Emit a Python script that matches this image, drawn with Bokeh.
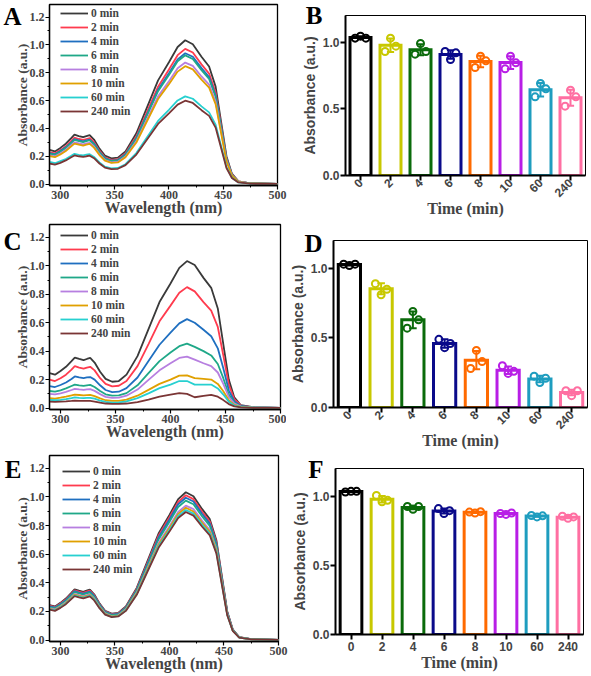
import math
from bokeh.plotting import figure
from bokeh.models import (Range1d, FactorRange, ColumnDataSource, Legend, LegendItem, LinearAxis,
                          FixedTicker, PrintfTickFormatter)
from bokeh.layouts import row, column
from bokeh.transform import dodge
from bokeh.embed import file_html
from bokeh.resources import INLINE

# ---------------- data ----------------
wavelength_nm = [290, 295, 300, 305, 310, 313, 317, 321, 324, 327, 331, 336, 341, 347, 353, 360,
                 370, 380, 390, 400, 408, 415, 422, 430, 437, 443, 448, 453, 458, 464, 475, 500]
time_legend = ["0 min", "2 min", "4 min", "6 min", "8 min", "10 min", "60 min", "240 min"]
time_cats = ["0", "2", "4", "6", "8", "10", "60", "240"]

control_0min = [0.245, 0.235, 0.26, 0.29, 0.33, 0.355, 0.345, 0.337, 0.345, 0.352, 0.32, 0.255, 0.205, 0.185, 0.19, 0.235,
                0.365, 0.555, 0.745, 0.875, 0.985, 1.033, 1.005, 0.915, 0.845, 0.70, 0.45, 0.20, 0.075, 0.02, 0.006, 0.002]

A_2min = [0.230, 0.221, 0.244, 0.273, 0.310, 0.334, 0.324, 0.317, 0.324, 0.331, 0.301, 0.240, 0.193, 0.174, 0.179, 0.221,
          0.343, 0.522, 0.700, 0.823, 0.926, 0.971, 0.945, 0.860, 0.794, 0.658, 0.423, 0.188, 0.071, 0.019, 0.006, 0.002]
A_4min = [0.223, 0.214, 0.237, 0.264, 0.300, 0.323, 0.314, 0.307, 0.314, 0.320, 0.291, 0.232, 0.187, 0.168, 0.173, 0.214,
          0.332, 0.505, 0.678, 0.796, 0.896, 0.940, 0.915, 0.833, 0.769, 0.637, 0.410, 0.182, 0.068, 0.018, 0.005, 0.002]
A_6min = [0.219, 0.210, 0.233, 0.260, 0.295, 0.318, 0.309, 0.302, 0.309, 0.315, 0.286, 0.228, 0.183, 0.166, 0.170, 0.210,
          0.327, 0.497, 0.667, 0.783, 0.882, 0.925, 0.899, 0.819, 0.756, 0.627, 0.403, 0.179, 0.067, 0.018, 0.005, 0.002]
A_8min = [0.207, 0.199, 0.220, 0.245, 0.279, 0.300, 0.292, 0.285, 0.292, 0.297, 0.270, 0.215, 0.173, 0.156, 0.161, 0.199,
          0.308, 0.469, 0.630, 0.739, 0.832, 0.873, 0.849, 0.773, 0.714, 0.592, 0.380, 0.169, 0.063, 0.017, 0.005, 0.002]
A_10min = [0.201, 0.193, 0.213, 0.238, 0.271, 0.291, 0.283, 0.276, 0.283, 0.289, 0.262, 0.209, 0.168, 0.152, 0.156, 0.193,
           0.299, 0.455, 0.611, 0.718, 0.808, 0.847, 0.824, 0.750, 0.693, 0.574, 0.369, 0.164, 0.062, 0.016, 0.005, 0.002]
A_60min = [0.160, 0.150, 0.165, 0.180, 0.203, 0.217, 0.210, 0.206, 0.212, 0.215, 0.195, 0.156, 0.125, 0.113, 0.116, 0.143,
           0.223, 0.339, 0.454, 0.534, 0.601, 0.630, 0.613, 0.558, 0.515, 0.427, 0.275, 0.122, 0.046, 0.012, 0.004, 0.001]
A_240min = [0.148, 0.140, 0.153, 0.170, 0.193, 0.206, 0.200, 0.195, 0.200, 0.204, 0.186, 0.148, 0.119, 0.107, 0.110, 0.136,
            0.212, 0.322, 0.432, 0.508, 0.571, 0.599, 0.583, 0.531, 0.490, 0.406, 0.261, 0.116, 0.044, 0.012, 0.003, 0.001]

C_2min = [0.20, 0.19, 0.21, 0.235, 0.27, 0.295, 0.285, 0.278, 0.285, 0.29, 0.265, 0.21, 0.17, 0.152, 0.157, 0.19,
          0.295, 0.45, 0.61, 0.72, 0.81, 0.85, 0.82, 0.745, 0.685, 0.57, 0.37, 0.165, 0.062, 0.018, 0.005, 0.002]
C_4min = [0.155, 0.148, 0.162, 0.18, 0.205, 0.222, 0.215, 0.21, 0.215, 0.218, 0.2, 0.16, 0.127, 0.112, 0.115, 0.14,
          0.215, 0.33, 0.445, 0.53, 0.595, 0.625, 0.6, 0.55, 0.505, 0.42, 0.28, 0.125, 0.048, 0.015, 0.005, 0.002]
C_6min = [0.12, 0.115, 0.125, 0.138, 0.155, 0.165, 0.16, 0.156, 0.16, 0.163, 0.148, 0.12, 0.097, 0.087, 0.089, 0.105,
          0.16, 0.245, 0.33, 0.39, 0.435, 0.453, 0.43, 0.4, 0.37, 0.31, 0.21, 0.095, 0.037, 0.012, 0.004, 0.002]
C_8min = [0.10, 0.096, 0.104, 0.114, 0.127, 0.135, 0.131, 0.128, 0.131, 0.133, 0.121, 0.098, 0.079, 0.071, 0.073, 0.087,
          0.13, 0.198, 0.265, 0.315, 0.352, 0.362, 0.34, 0.315, 0.295, 0.25, 0.17, 0.078, 0.031, 0.01, 0.004, 0.002]
C_10min = [0.07, 0.067, 0.073, 0.08, 0.089, 0.095, 0.092, 0.089, 0.091, 0.092, 0.084, 0.068, 0.055, 0.05, 0.051, 0.06,
           0.087, 0.128, 0.17, 0.2, 0.228, 0.23, 0.21, 0.205, 0.2, 0.17, 0.118, 0.055, 0.022, 0.008, 0.003, 0.002]
C_60min = [0.058, 0.055, 0.058, 0.063, 0.07, 0.075, 0.072, 0.07, 0.071, 0.072, 0.066, 0.053, 0.043, 0.039, 0.04, 0.047,
           0.07, 0.103, 0.14, 0.165, 0.19, 0.19, 0.165, 0.165, 0.165, 0.138, 0.095, 0.045, 0.018, 0.007, 0.003, 0.002]
C_240min = [0.045, 0.043, 0.045, 0.047, 0.05, 0.052, 0.051, 0.05, 0.05, 0.05, 0.046, 0.038, 0.032, 0.029, 0.029, 0.032,
            0.042, 0.06, 0.08, 0.095, 0.105, 0.1, 0.076, 0.085, 0.093, 0.08, 0.056, 0.028, 0.012, 0.005, 0.002, 0.001]

E_2min = [0.240, 0.230, 0.255, 0.284, 0.323, 0.348, 0.338, 0.330, 0.338, 0.345, 0.314, 0.250, 0.201, 0.181, 0.186, 0.230,
          0.358, 0.544, 0.730, 0.858, 0.965, 1.012, 0.985, 0.897, 0.828, 0.686, 0.441, 0.196, 0.074, 0.020, 0.006, 0.002]
E_4min = [0.236, 0.226, 0.250, 0.279, 0.318, 0.342, 0.332, 0.325, 0.332, 0.339, 0.308, 0.246, 0.197, 0.178, 0.183, 0.226,
          0.351, 0.534, 0.717, 0.843, 0.949, 0.995, 0.968, 0.881, 0.814, 0.674, 0.433, 0.193, 0.072, 0.019, 0.006, 0.002]
E_6min = [0.231, 0.222, 0.245, 0.274, 0.312, 0.335, 0.326, 0.318, 0.326, 0.332, 0.302, 0.241, 0.194, 0.175, 0.179, 0.222,
          0.345, 0.524, 0.703, 0.826, 0.930, 0.975, 0.949, 0.864, 0.798, 0.661, 0.425, 0.189, 0.071, 0.019, 0.006, 0.002]
E_8min = [0.223, 0.214, 0.237, 0.264, 0.300, 0.323, 0.314, 0.307, 0.314, 0.320, 0.291, 0.232, 0.187, 0.168, 0.173, 0.214,
          0.332, 0.505, 0.678, 0.796, 0.896, 0.940, 0.915, 0.833, 0.769, 0.637, 0.410, 0.182, 0.068, 0.018, 0.005, 0.002]
E_10min = [0.219, 0.210, 0.233, 0.260, 0.295, 0.318, 0.309, 0.302, 0.309, 0.315, 0.286, 0.228, 0.183, 0.166, 0.170, 0.210,
           0.327, 0.497, 0.667, 0.783, 0.882, 0.925, 0.899, 0.819, 0.756, 0.627, 0.403, 0.179, 0.067, 0.018, 0.005, 0.002]
E_60min = [0.216, 0.207, 0.229, 0.255, 0.290, 0.312, 0.304, 0.297, 0.304, 0.310, 0.282, 0.224, 0.180, 0.163, 0.167, 0.207,
           0.321, 0.488, 0.656, 0.770, 0.867, 0.909, 0.884, 0.805, 0.744, 0.616, 0.396, 0.176, 0.066, 0.018, 0.005, 0.002]
E_240min = [0.212, 0.204, 0.225, 0.251, 0.286, 0.307, 0.299, 0.292, 0.299, 0.305, 0.277, 0.221, 0.178, 0.160, 0.165, 0.204,
            0.316, 0.481, 0.645, 0.758, 0.853, 0.895, 0.870, 0.792, 0.732, 0.606, 0.390, 0.173, 0.065, 0.017, 0.005, 0.002]

# bar panels: mean, SD and the three replicate points (left / middle / right)
B_mean = [1.035, 0.977, 0.943, 0.907, 0.855, 0.847, 0.643, 0.583]
B_sd = [0.009, 0.05, 0.042, 0.032, 0.043, 0.048, 0.05, 0.06]
B_pts_left = [1.03, 0.93, 0.91, 0.93, 0.81, 0.80, 0.59, 0.52]
B_pts_mid = [1.045, 1.03, 0.99, 0.87, 0.895, 0.895, 0.69, 0.64]
B_pts_right = [1.03, 0.97, 0.93, 0.92, 0.86, 0.845, 0.65, 0.59]

D_mean = [1.027, 0.853, 0.63, 0.46, 0.34, 0.267, 0.205, 0.108]
D_sd = [0.006, 0.04, 0.06, 0.03, 0.066, 0.027, 0.023, 0.02]
D_pts_left = [1.03, 0.89, 0.57, 0.49, 0.28, 0.30, 0.225, 0.12]
D_pts_mid = [1.02, 0.81, 0.69, 0.43, 0.41, 0.245, 0.18, 0.085]
D_pts_right = [1.03, 0.85, 0.63, 0.46, 0.33, 0.26, 0.21, 0.12]

F_mean = [1.033, 0.978, 0.918, 0.893, 0.884, 0.874, 0.856, 0.848]
F_sd = [0.003, 0.024, 0.012, 0.018, 0.005, 0.005, 0.005, 0.008]
F_pts_left = [1.03, 1.005, 0.925, 0.91, 0.885, 0.875, 0.86, 0.855]
F_pts_mid = [1.035, 0.96, 0.905, 0.875, 0.878, 0.868, 0.85, 0.84]
F_pts_right = [1.035, 0.97, 0.925, 0.895, 0.888, 0.878, 0.858, 0.85]

spec_colors = ["#3a3a3a", "#ff3b4e", "#1f6fc0", "#1fa888", "#b77fe0", "#e0a000", "#27d0d0", "#7a3535"]
bar_colors = ["#000000", "#c8c800", "#0b6b0b", "#0a0a8a", "#ff6a00", "#b81ee6", "#1e9dbf", "#ff6fa2"]

SERIF = "Liberation Serif"
SANS = "Liberation Sans"


def base_fig(width, height, L, R, T, B, x_range, y_range):
    p = figure(width=width, height=height, x_range=x_range, y_range=y_range,
               output_backend="svg", toolbar_location=None)
    p.frame_align = False
    p.min_border_left = L
    p.min_border_right = R
    p.min_border_top = T
    p.min_border_bottom = B
    p.xgrid.visible = False
    p.ygrid.visible = False
    p.background_fill_color = "white"
    p.border_fill_color = "white"
    p.outline_line_color = "black"
    return p


def add_letter(p, letter, y_pos, standoff):
    # panel letter drawn as the single tick label of an extra, otherwise invisible left axis
    ax = LinearAxis(ticker=FixedTicker(ticks=[y_pos], minor_ticks=[]),
                    major_label_overrides={y_pos: letter})
    ax.axis_line_alpha = 0
    ax.major_tick_line_alpha = 0
    ax.minor_tick_line_alpha = 0
    ax.major_tick_out = 0
    ax.major_tick_in = 0
    ax.major_label_standoff = standoff
    ax.major_label_text_font = SERIF
    ax.major_label_text_font_style = "bold"
    ax.major_label_text_font_size = "25px"
    ax.major_label_text_color = "black"
    p.add_layout(ax, "left")


def spectrum_panel(curves, letter, width, height, L, R, T, B, leg_first, leg_x, let_y, let_off):
    p = base_fig(width, height, L, R, T, B, Range1d(290, 500), Range1d(-0.01, 1.29))
    frame_h = height - T - B
    p.outline_line_width = 1.3
    items = []
    for lab, col, ys in zip(time_legend, spec_colors, curves):
        r = p.line(wavelength_nm, ys, line_color=col, line_width=1.8)
        items.append(LegendItem(label=lab, renderers=[r]))
    item_h = 14
    leg_h = len(items) * item_h
    vy = frame_h - (leg_first - item_h / 2) - leg_h
    leg = Legend(items=items, location=(leg_x, vy), glyph_width=28, glyph_height=item_h,
                 label_height=item_h, spacing=0, padding=0, margin=0, label_standoff=3,
                 label_text_font=SERIF, label_text_font_style="bold", label_text_font_size="11.5px",
                 border_line_alpha=0, background_fill_alpha=0)
    p.add_layout(leg)
    p.xaxis.ticker = FixedTicker(ticks=[300, 350, 400, 450, 500], minor_ticks=[325, 375, 425, 475])
    p.yaxis.ticker = FixedTicker(ticks=[0.0, 0.2, 0.4, 0.6, 0.8, 1.0, 1.2],
                                 minor_ticks=[0.1, 0.3, 0.5, 0.7, 0.9, 1.1])
    p.yaxis.formatter = PrintfTickFormatter(format="%.1f")
    p.xaxis.axis_label = "Wavelength (nm)"
    p.yaxis.axis_label = "Absorbance (a.u.)"
    for ax in (p.xaxis[0], p.yaxis[0]):
        ax.axis_line_width = 1.3
        ax.major_tick_out = 4
        ax.major_tick_in = 0
        ax.minor_tick_out = 2
        ax.minor_tick_in = 0
        ax.major_tick_line_width = 1.2
        ax.major_label_text_font = SERIF
        ax.major_label_text_font_style = "bold"
        ax.major_label_text_font_size = "12px"
        ax.axis_label_text_font = SERIF
        ax.axis_label_text_font_style = "bold"
        ax.major_label_standoff = 1
    p.xaxis.axis_label_text_font_size = "16px"
    p.yaxis.axis_label_text_font_size = "13.5px"
    p.xaxis.axis_label_standoff = -3
    p.yaxis.axis_label_standoff = -3
    add_letter(p, letter, let_y, let_off)
    return p


def bar_panel(means, sds, left, mid, right, letter, rotate, width, height, L, R, T, B, let_y, let_off):
    p = base_fig(width, height, L, R, T, B, FactorRange(factors=time_cats), Range1d(0, 1.2))
    p.outline_line_width = 1
    lo = [m - s for m, s in zip(means, sds)]
    hi = [m + s for m, s in zip(means, sds)]
    src = ColumnDataSource(dict(cat=time_cats, mean=means, lo=lo, hi=hi, pl=left, pm=mid, pr=right,
                                color=bar_colors))
    p.vbar(x="cat", top="mean", bottom=0, width=0.7, fill_color="white", line_color="color",
           line_width=3, line_join="miter", source=src)
    p.segment(x0="cat", y0="lo", x1="cat", y1="hi", line_color="color", line_width=2, source=src)
    for yk in ("lo", "hi"):
        p.segment(x0=dodge("cat", -0.12, range=p.x_range), y0=yk, x1=dodge("cat", 0.12, range=p.x_range),
                  y1=yk, line_color="color", line_width=2, source=src)
    for off, key in ((-0.18, "pl"), (0.0, "pm"), (0.18, "pr")):
        p.scatter(x=dodge("cat", off, range=p.x_range), y=key, marker="circle", size=7,
                  line_color="color", line_width=2, fill_alpha=0, source=src)
    p.yaxis.ticker = FixedTicker(ticks=[0.0, 0.5, 1.0], minor_ticks=[])
    p.yaxis.formatter = PrintfTickFormatter(format="%.1f")
    p.xaxis.axis_label = "Time (min)"
    p.yaxis.axis_label = "Absorbance (a.u.)"
    for ax in (p.xaxis[0], p.yaxis[0]):
        ax.axis_line_width = 2
        ax.major_tick_out = 5
        ax.major_tick_in = 0
        ax.minor_tick_out = 0
        ax.major_tick_line_width = 2
        ax.major_label_text_font = SANS
        ax.major_label_text_font_style = "bold"
        ax.major_label_text_font_size = "12px"
        ax.major_label_standoff = 1
    p.xaxis.axis_label_text_font = SERIF
    p.xaxis.axis_label_text_font_style = "bold"
    p.xaxis.axis_label_text_font_size = "16px"
    p.yaxis.axis_label_text_font = SANS
    p.yaxis.axis_label_text_font_style = "bold"
    p.yaxis.axis_label_text_font_size = "14px"
    p.yaxis.axis_label_standoff = 2
    if rotate:
        p.xaxis.major_label_orientation = math.pi / 4
        p.xaxis.axis_label_standoff = -4
        p.xaxis.major_label_standoff = 0
    else:
        p.xaxis.axis_label_standoff = 0
        p.xaxis.major_label_standoff = 2
    add_letter(p, letter, let_y, let_off)
    return p


A_curves = [control_0min, A_2min, A_4min, A_6min, A_8min, A_10min, A_60min, A_240min]
C_curves = [control_0min, C_2min, C_4min, C_6min, C_8min, C_10min, C_60min, C_240min]
E_curves = [control_0min, E_2min, E_4min, E_6min, E_8min, E_10min, E_60min, E_240min]

pA = spectrum_panel(A_curves, "A", 298, 220, 49, 21, 4, 35, 9.3, 11, 1.205, -10)
pB = bar_panel(B_mean, B_sd, B_pts_left, B_pts_mid, B_pts_right, "B", True, 293, 220, 45, 6, 15, 45, 1.2, -24)
pC = spectrum_panel(C_curves, "C", 286, 232, 49, 6, 4, 43, 11, 11, 1.17, -10)
pD = bar_panel(D_mean, D_sd, D_pts_left, D_pts_mid, D_pts_right, "D", True, 305, 232, 47, 4, 20, 45, 1.175, -36)
pE = spectrum_panel(E_curves, "E", 288, 224, 49, 10, 3, 35, 15.7, 13, 1.189, -10)
pF = bar_panel(F_mean, F_sd, F_pts_left, F_pts_mid, F_pts_right, "F", False, 303, 224, 44, 8, 16, 42, 1.196, -35)

layout = column(row(pA, pB, spacing=0), row(pC, pD, spacing=0), row(pE, pF, spacing=0), spacing=0)

open("out.html", "w").write(file_html(layout, INLINE))
